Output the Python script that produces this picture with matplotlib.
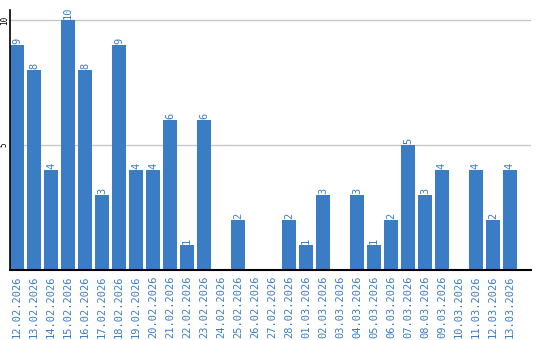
import matplotlib
matplotlib.use("Agg")
import matplotlib.pyplot as plt

dates = ["12.02.2026","13.02.2026","14.02.2026","15.02.2026","16.02.2026","17.02.2026",
         "18.02.2026","19.02.2026","20.02.2026","21.02.2026","22.02.2026","23.02.2026",
         "24.02.2026","25.02.2026","26.02.2026","27.02.2026","28.02.2026","01.03.2026",
         "02.03.2026","03.03.2026","04.03.2026","05.03.2026","06.03.2026","07.03.2026",
         "08.03.2026","09.03.2026","10.03.2026","11.03.2026","12.03.2026","13.03.2026"]
values = [9,8,4,10,8,3,9,4,4,6,1,6,0,2,0,0,2,1,3,0,3,1,2,5,3,4,0,4,2,4]
yticks = [5, 10]

color = "#3b7dc4"
fig = plt.figure(figsize=(5.4, 3.4), dpi=100)
ax = fig.add_axes([10/540, 70/340, 521/540, 260/340])
x = list(range(len(dates)))
ax.bar(x, values, width=0.82, color=color, zorder=2)
for xi, v in zip(x, values):
    if v > 0:
        ax.annotate(str(v), (xi, v), xytext=(0, 1), textcoords="offset points",
                    rotation=90, ha="center", va="bottom", color=color,
                    fontsize=7.5, family="DejaVu Sans Mono")
ax.set_xlim(-0.41, 30.24)
ax.set_ylim(0, 10.4)
ax.set_yticks(yticks)
ax.set_yticklabels([str(t) for t in yticks], rotation=90, va="center",
                   fontsize=5.5, family="DejaVu Sans Mono")
ax.tick_params(axis="y", length=0, pad=0.8)
ax.set_xticks(x)
ax.set_xticklabels(dates, rotation=90, color=color, fontsize=7.5,
                   family="DejaVu Sans Mono", va="top")
ax.tick_params(axis="x", length=0, pad=4)
ax.grid(axis="y", color="#c8c8c8", linewidth=1, zorder=0)
for s in ["top", "right"]:
    ax.spines[s].set_visible(False)
ax.spines["left"].set_linewidth(1.2)
ax.spines["bottom"].set_linewidth(1.5)
fig.savefig("out.png", dpi=100)
